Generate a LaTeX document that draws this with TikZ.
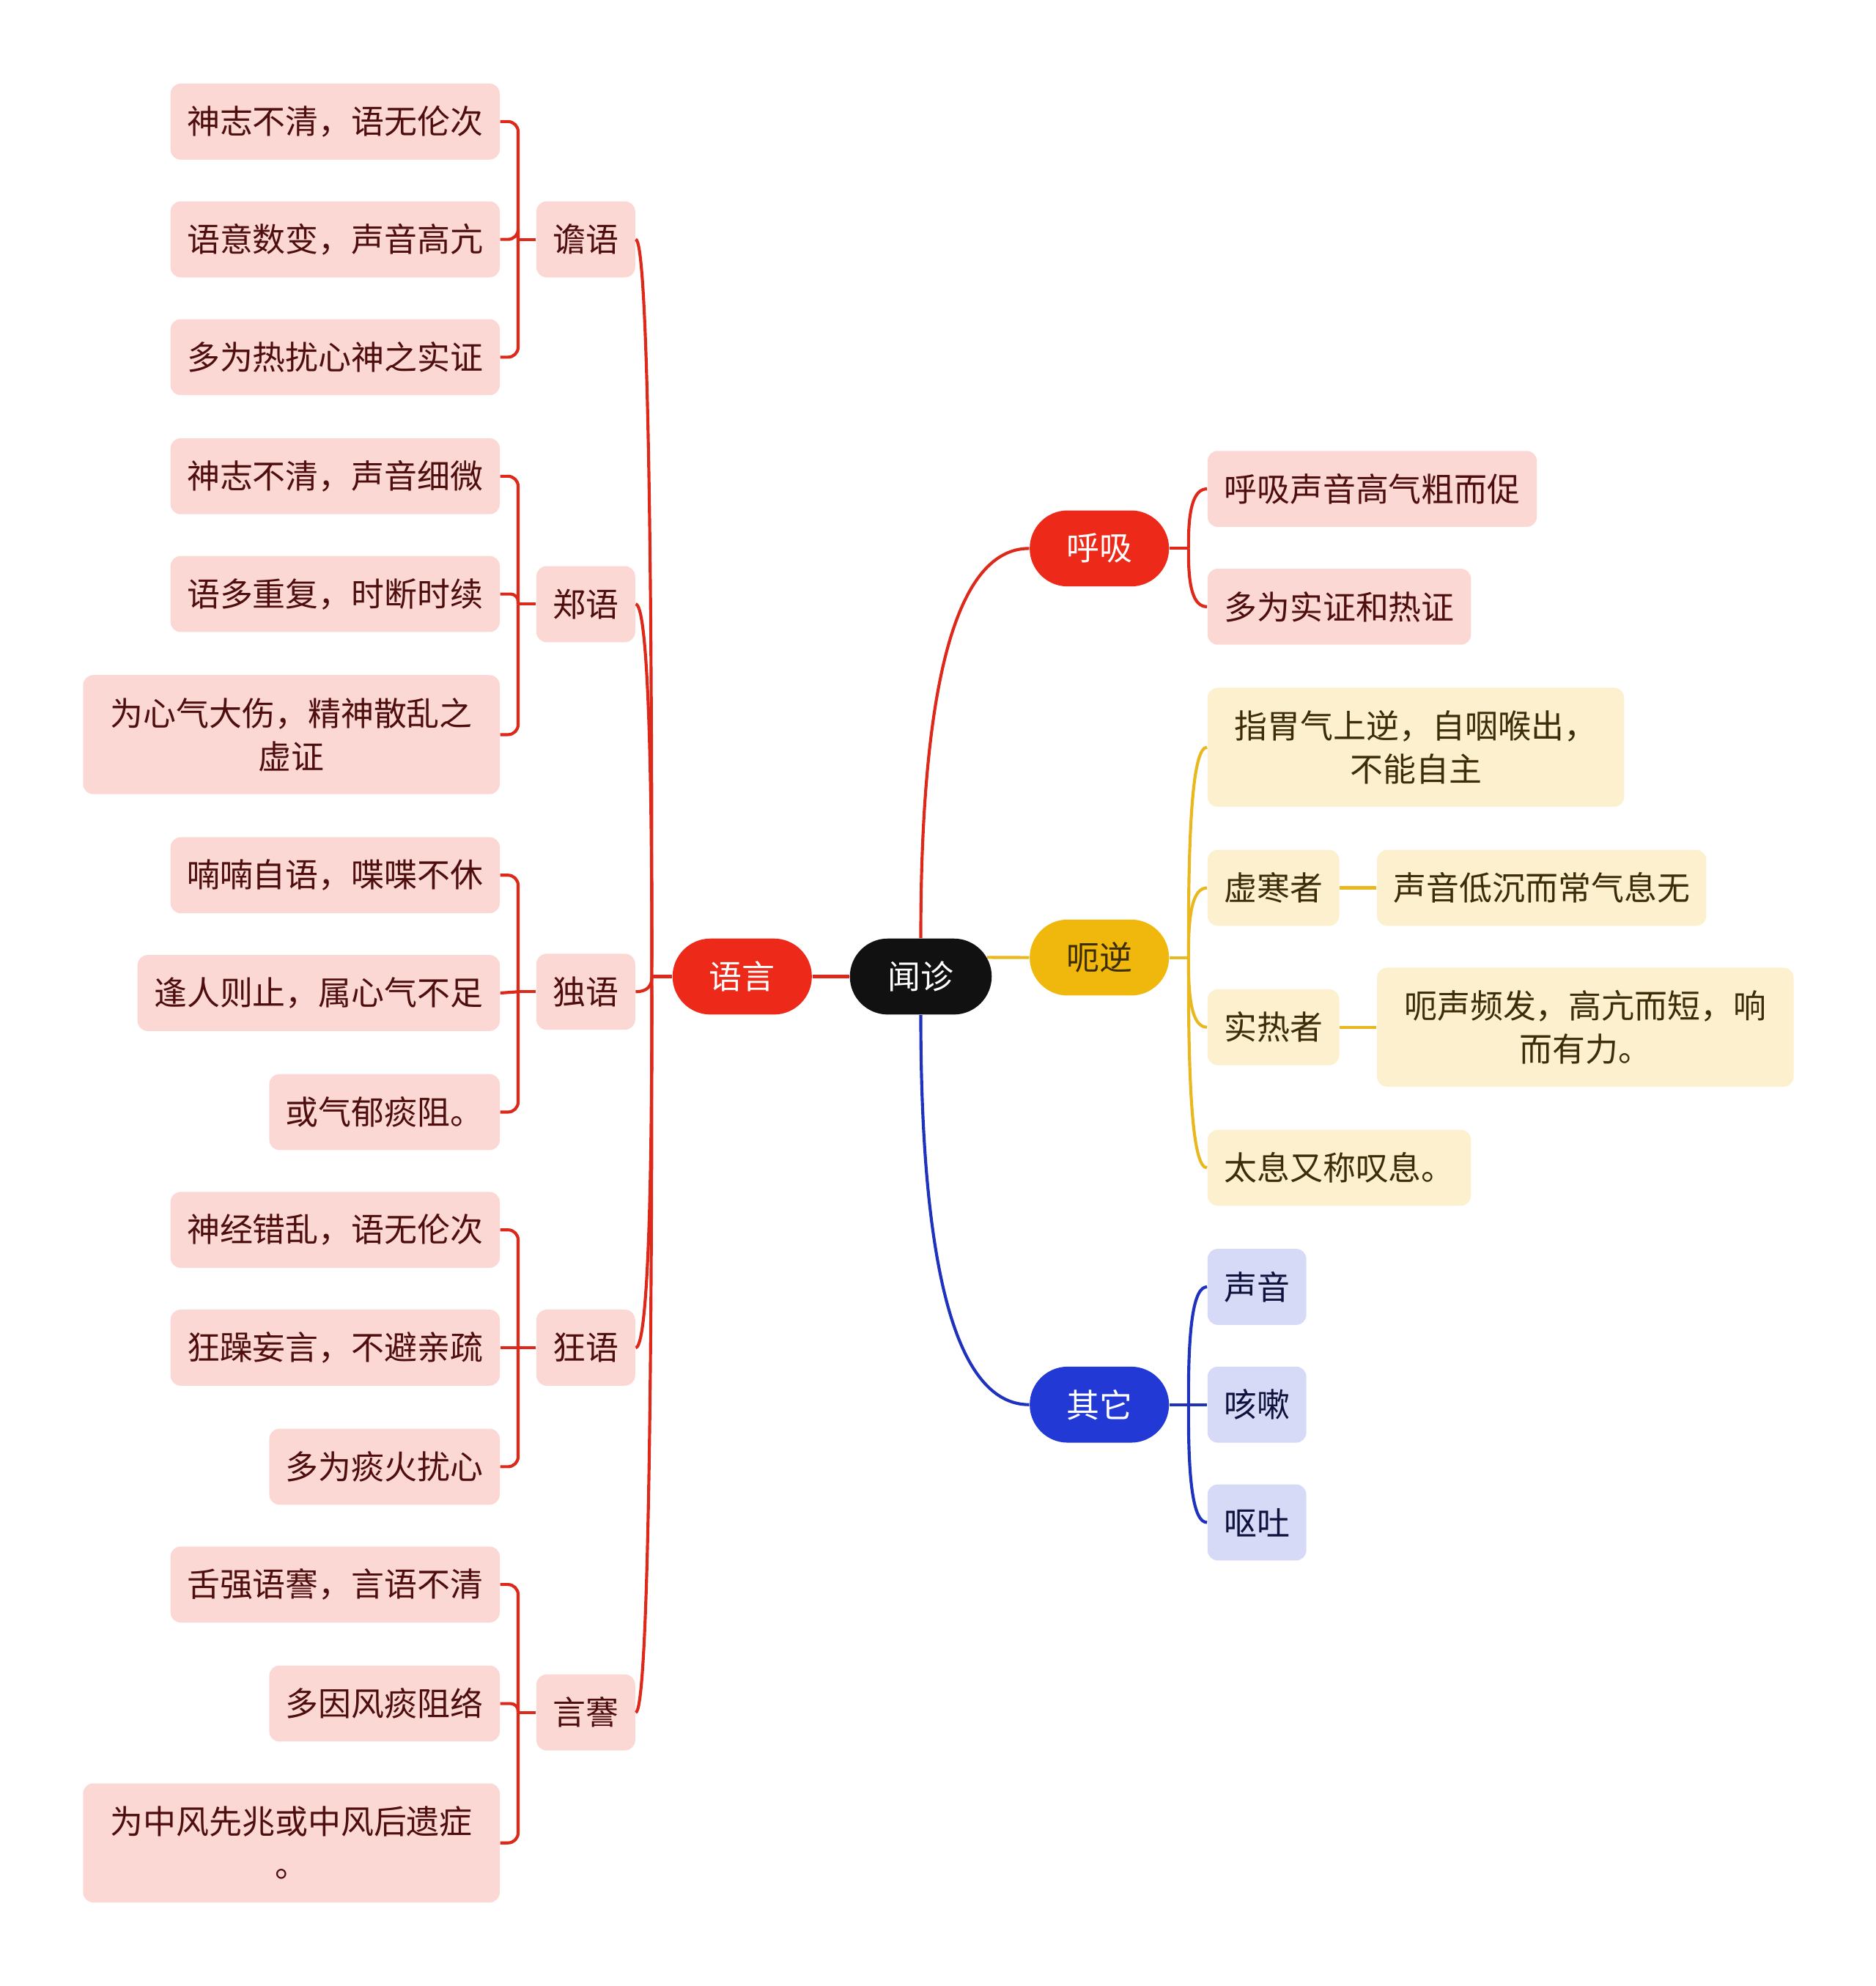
\documentclass[tikz,border=0pt]{standalone}
\usepackage{fontspec}
\setmainfont{Noto Sans CJK SC}
\usetikzlibrary{positioning}
\definecolor{rootfill}{RGB}{17,17,17}
\definecolor{redmain}{RGB}{237,42,26}
\definecolor{redline}{RGB}{222,40,26}
\definecolor{redsoft}{RGB}{252,216,213}
\definecolor{redtext}{RGB}{78,14,14}
\definecolor{yelmain}{RGB}{240,184,12}
\definecolor{yelline}{RGB}{232,184,30}
\definecolor{yelsoft}{RGB}{253,240,206}
\definecolor{yeltext}{RGB}{60,44,8}
\definecolor{blumain}{RGB}{35,57,214}
\definecolor{bluline}{RGB}{30,50,190}
\definecolor{blusoft}{RGB}{214,218,247}
\definecolor{blutext}{RGB}{14,18,60}

\begin{document}
\begin{tikzpicture}[
  x=0.5pt, y=-0.5pt,
  font=\fontsize{13pt}{17pt}\selectfont,
  pill/.style={rounded corners=15pt, minimum height=30pt, minimum width=55pt,
               inner sep=0pt, text=white},
  topic/.style={rounded corners=4pt, minimum height=30pt, inner xsep=6.5pt,
                inner ysep=0pt, align=center},
  twoline/.style={minimum width=164.5pt, minimum height=47pt},
  redbox/.style={topic, fill=redsoft, text=redtext},
  yelbox/.style={topic, fill=yelsoft, text=yeltext},
  blubox/.style={topic, fill=blusoft, text=blutext},
  redlink/.style={draw=redline, line width=1.2pt},
  yellink/.style={draw=yelline, line width=1.2pt},
  blulink/.style={draw=bluline, line width=1.2pt}
]
  \useasboundingbox (0,0) rectangle (1481,1568);

  % centre and main branches
  \node[pill, fill=rootfill, minimum width=56pt] (wz) at (727,771) {闻诊};
  \node[pill, fill=redmain] (yy) at (586,771) {语言};
  \node[pill, fill=redmain] (hx) at (868,433) {呼吸};
  \node[pill, fill=yelmain, text=yeltext] (en) at (868,756) {呃逆};
  \node[pill, fill=blumain] (qt) at (868,1109) {其它};

  % 语言
  \node[redbox] (zy) at (462.5,189) {谵语};
  \node[redbox] (zh) at (462.5,477) {郑语};
  \node[redbox] (dy) at (462.5,783) {独语};
  \node[redbox] (ky) at (462.5,1064) {狂语};
  \node[redbox] (yj) at (462.5,1352) {言謇};

  \node[redbox, anchor=east] (zy1) at (395,96) {神志不清，语无伦次};
  \node[redbox, anchor=east] (zy2) at (395,189) {语意数变，声音高亢};
  \node[redbox, anchor=east] (zy3) at (395,282) {多为热扰心神之实证};
  \node[redbox, anchor=east] (zh1) at (395,376) {神志不清，声音细微};
  \node[redbox, anchor=east] (zh2) at (395,469) {语多重复，时断时续};
  \node[redbox, twoline, anchor=east] (zh3) at (395,580) {为心气大伤，精神散乱之\\虚证};
  \node[redbox, anchor=east] (dy1) at (395,691) {喃喃自语，喋喋不休};
  \node[redbox, anchor=east] (dy2) at (395,784) {逢人则止，属心气不足};
  \node[redbox, anchor=east] (dy3) at (395,878) {或气郁痰阻。};
  \node[redbox, anchor=east] (ky1) at (395,971) {神经错乱，语无伦次};
  \node[redbox, anchor=east] (ky2) at (395,1064) {狂躁妄言，不避亲疏};
  \node[redbox, anchor=east] (ky3) at (395,1158) {多为痰火扰心};
  \node[redbox, anchor=east] (yj1) at (395,1251) {舌强语謇，言语不清};
  \node[redbox, anchor=east] (yj2) at (395,1345) {多因风痰阻络};
  \node[redbox, twoline, anchor=east] (yj3) at (395,1455) {为中风先兆或中风后遗症\\。};

  % 呼吸
  \node[redbox, anchor=west] (hx1) at (953,386) {呼吸声音高气粗而促};
  \node[redbox, anchor=west] (hx2) at (953,479) {多为实证和热证};

  % 呃逆
  \node[yelbox, twoline, anchor=west] (en1) at (953,590) {指胃气上逆，自咽喉出，\\不能自主};
  \node[yelbox, anchor=west] (xh) at (953,701) {虚寒者};
  \node[yelbox, anchor=west] (sr) at (953,811) {实热者};
  \node[yelbox, anchor=west] (en4) at (953,922) {太息又称叹息。};
  \node[yelbox, right=14.5pt of xh] (xh1) {声音低沉而常气息无};
  \node[yelbox, twoline, right=14.5pt of sr] (sr1) {呃声频发，高亢而短，响\\而有力。};

  % 其它
  \node[blubox, anchor=west] (qt1) at (953,1016) {声音};
  \node[blubox, anchor=west] (qt2) at (953,1109) {咳嗽};
  \node[blubox, anchor=west] (qt3) at (953,1202) {呕吐};

  % centre links
  \draw[redlink] (wz.west) -- (yy.east);
  \draw[redlink] (wz.north) .. controls (727,536) and (756,433) .. (hx.west);
  \draw[yellink, shorten <=-2pt] (wz.15) -- (en.west);
  \draw[blulink] (wz.south) .. controls (727,1006) and (756,1109) .. (qt.west);

  % 语言 to its topics
  \draw[redlink] (yy.west) -- ++(-16,0) coordinate (yyj);
  \draw[redlink] (yyj) .. controls (515,383) and (510.3,189) .. (zy.east);
  \draw[redlink] (yyj) .. controls (515,575) and (510.3,477) .. (zh.east);
  \draw[redlink] (yyj) .. controls (515,779) and (510.3,783) .. (dy.east);
  \draw[redlink] (yyj) .. controls (515,966) and (510.3,1064) .. (ky.east);
  \draw[redlink] (yyj) .. controls (515,1158) and (510.3,1352) .. (yj.east);

  % topics to leaves
  \draw[redlink] (zy.west) -- ++(-14,0) coordinate (zyj);
  \draw[redlink, rounded corners=4pt] (zyj) |- (zy1.east);
  \draw[redlink, rounded corners=4pt] (zyj) |- (zy2.east);
  \draw[redlink, rounded corners=4pt] (zyj) |- (zy3.east);
  \draw[redlink] (zh.west) -- ++(-14,0) coordinate (zhj);
  \draw[redlink, rounded corners=4pt] (zhj) |- (zh1.east);
  \draw[redlink, rounded corners=3pt] (zhj) |- (zh2.east);
  \draw[redlink, rounded corners=4pt] (zhj) |- (zh3.east);
  \draw[redlink] (dy.west) -- ++(-14,0) coordinate (dyj);
  \draw[redlink, rounded corners=4pt] (dyj) |- (dy1.east);
  \draw[redlink] (dyj) -- (dy2.east);
  \draw[redlink, rounded corners=4pt] (dyj) |- (dy3.east);
  \draw[redlink] (ky.west) -- ++(-14,0) coordinate (kyj);
  \draw[redlink, rounded corners=4pt] (kyj) |- (ky1.east);
  \draw[redlink] (kyj) -- (ky2.east);
  \draw[redlink, rounded corners=4pt] (kyj) |- (ky3.east);
  \draw[redlink] (yj.west) -- ++(-14,0) coordinate (yjj);
  \draw[redlink, rounded corners=4pt] (yjj) |- (yj1.east);
  \draw[redlink, rounded corners=3pt] (yjj) |- (yj2.east);
  \draw[redlink, rounded corners=4pt] (yjj) |- (yj3.east);

  % right branches
  \draw[redlink] (hx.east) -- ++(15,0) coordinate (hxj);
  \draw[redlink] (hxj) .. controls (938,402) and (942.3,386) .. (hx1.west);
  \draw[redlink] (hxj) .. controls (938,464) and (942.3,479) .. (hx2.west);

  \draw[yellink] (en.east) -- ++(15,0) coordinate (enj);
  \draw[yellink] (enj) .. controls (938,645) and (942.3,590) .. (en1.west);
  \draw[yellink] (enj) .. controls (938,719) and (942.3,701) .. (xh.west);
  \draw[yellink] (enj) .. controls (938,793) and (942.3,811) .. (sr.west);
  \draw[yellink] (enj) .. controls (938,867) and (942.3,922) .. (en4.west);
  \draw[yellink] (xh.east) -- (xh1.west);
  \draw[yellink] (sr.east) -- (sr1.west);

  \draw[blulink] (qt.east) -- ++(15,0) coordinate (qtj);
  \draw[blulink] (qtj) .. controls (938,1047) and (942.3,1016) .. (qt1.west);
  \draw[blulink] (qtj) -- (qt2.west);
  \draw[blulink] (qtj) .. controls (938,1171) and (942.3,1202) .. (qt3.west);
\end{tikzpicture}
\end{document}
